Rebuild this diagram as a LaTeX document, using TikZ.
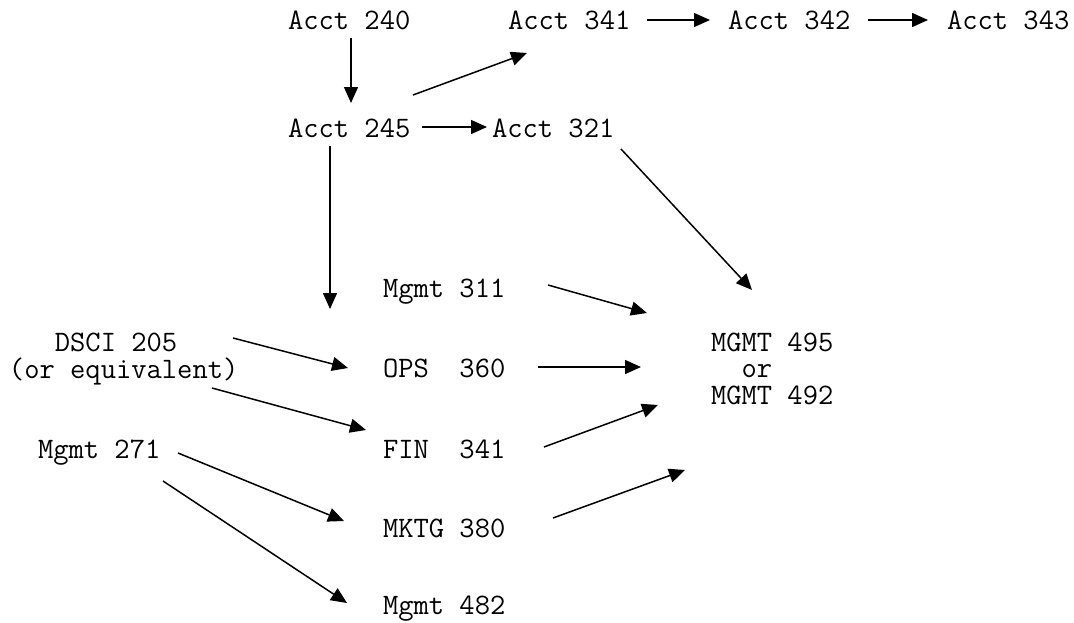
\documentclass[tikz,border=0pt]{standalone}
\usepackage{fontspec}
\usetikzlibrary{arrows.meta}
\begin{document}
\begin{tikzpicture}[x=1pt,y=-1pt,
  lbl/.style={anchor=base west,inner sep=0pt,outer sep=0pt,align=left,
    font=\fontsize{29.7}{26.5}\selectfont\ttfamily},
  arr/.style={line width=1.5pt,-{Triangle[length=16pt,width=14pt]}}]
\useasboundingbox (0,0) rectangle (1074,622);
% nodes (base west at cap-middle + 9; multi-line nodes: last line)
\node[lbl] (a240) at (288,29) {Acct 240};
\node[lbl] (a341) at (508,29) {Acct 341};
\node[lbl] (a342) at (728,29) {Acct 342};
\node[lbl] (a343) at (947,29) {Acct 343};
\node[lbl] (a245) at (288,137) {Acct 245};
\node[lbl] (a321) at (492,137) {Acct 321};
\node[lbl] (m311) at (383,297) {Mgmt 311};
\node[lbl] (dsci) at (9,378) {\hphantom{000}DSCI 205\\(or equivalent)};
\node[lbl] (ops)  at (383,377) {OPS\hphantom{0} 360};
\node[lbl] (fin)  at (383,458) {FIN\hphantom{0} 341};
\node[lbl] (m271) at (38,458) {Mgmt 271};
\node[lbl] (mktg) at (383,537) {MKTG 380};
\node[lbl] (m482) at (383,614) {Mgmt 482};
\node[lbl] (cap)  at (711,404) {MGMT 495\\\hphantom{00}or\\MGMT 492};
% connector end points
\coordinate (a240s) at (351,38);  \coordinate (a245n) at (351,103);
\coordinate (a245ne) at (413,95); \coordinate (a341sw) at (527,53);
\coordinate (a341e) at (647,20);  \coordinate (a342w) at (710,20);
\coordinate (a342e) at (868,20);  \coordinate (a343w) at (928,20);
\coordinate (a245e) at (422,127); \coordinate (a321w) at (487,127);
\coordinate (a245s) at (330,146); \coordinate (opsn) at (330,309);
\coordinate (a321se) at (621,149); \coordinate (capnw) at (752,290);
\coordinate (m311e) at (548,285); \coordinate (capw1) at (647,313);
\coordinate (opse) at (538,367);  \coordinate (capw2) at (641,367);
\coordinate (fine) at (544,447);  \coordinate (capw3) at (658,405);
\coordinate (mktge) at (553,518); \coordinate (capsw) at (685,470);
\coordinate (dscie) at (233,338); \coordinate (opsw) at (348,368);
\coordinate (dscise) at (212,388); \coordinate (finw) at (366,430);
\coordinate (m271e) at (178,453); \coordinate (mktgw) at (344,521);
\coordinate (m271se) at (163,481); \coordinate (m482w) at (347,603);
% connectors
\draw[arr] (a240s) -- (a245n);
\draw[arr] (a245ne) -- (a341sw);
\draw[arr] (a341e) -- (a342w);
\draw[arr] (a342e) -- (a343w);
\draw[arr] (a245e) -- (a321w);
\draw[arr] (a245s) -- (opsn);
\draw[arr] (a321se) -- (capnw);
\draw[arr] (m311e) -- (capw1);
\draw[arr] (opse) -- (capw2);
\draw[arr] (fine) -- (capw3);
\draw[arr] (mktge) -- (capsw);
\draw[arr] (dscie) -- (opsw);
\draw[arr] (dscise) -- (finw);
\draw[arr] (m271e) -- (mktgw);
\draw[arr] (m271se) -- (m482w);
\end{tikzpicture}
\end{document}
